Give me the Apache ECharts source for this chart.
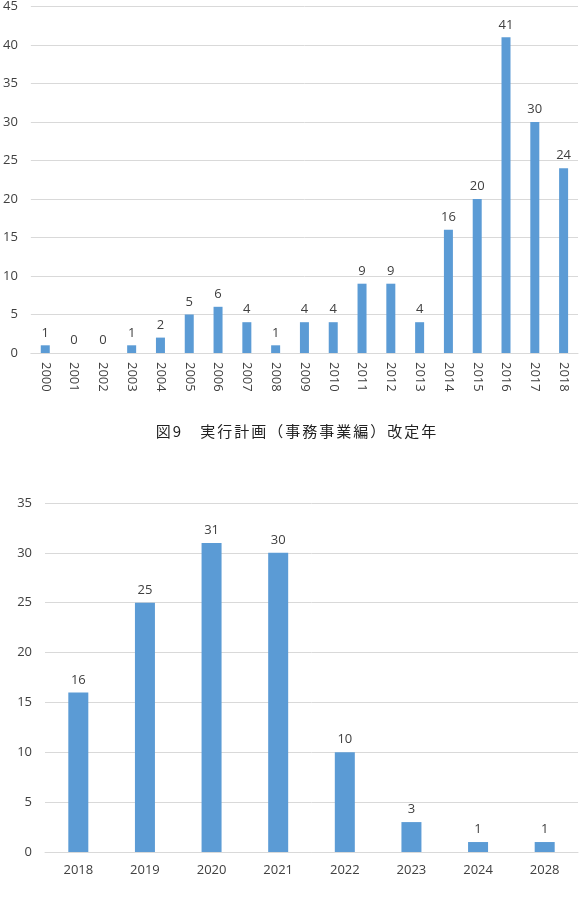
<!DOCTYPE html>
<html>
<head>
<meta charset="utf-8">
<script src="https://cdn.jsdelivr.net/npm/echarts@6/dist/echarts.min.js"></script>
<style>
  html, body { margin: 0; padding: 0; background: #fff; }
  #wrap { position: relative; width: 588px; height: 908px; }
  #chart { width: 588px; height: 908px; }
  #caption {
    position: absolute; left: 0; top: 421px; width: 588px; padding-left: 6px; box-sizing: border-box;
    text-align: center; font-family: "Noto Sans CJK JP"; font-size: 15px; letter-spacing: 2px;
    color: #222; line-height: 20px;
  }
</style>
</head>
<body>
<div id="wrap">
  <div id="chart"></div>
  <div id="caption"></div>
</div>
<script>
// revision years (top chart)
const revYears = ["2000", "2001", "2002", "2003", "2004", "2005", "2006", "2007", "2008", "2009",
  "2010", "2011", "2012", "2013", "2014", "2015", "2016", "2017", "2018"];
const revCounts = [1, 0, 0, 1, 2, 5, 6, 4, 1, 4, 4, 9, 9, 4, 16, 20, 41, 30, 24];

// planned years (bottom chart)
const planYears = ["2018", "2019", "2020", "2021", "2022", "2023", "2024", "2028"];
const planCounts = [16, 25, 31, 30, 10, 3, 1, 1];

const caption = "図9　実行計画（事務事業編）改定年";

const barColor = "#5B9BD5";
const textColor = "#404040";
const font = "Open Sans";

document.getElementById("caption").textContent = caption;

const myChart = echarts.init(document.getElementById("chart"));

function yAxisOf(idx, max) {
  return {
    type: "value",
    gridIndex: idx,
    min: 0,
    max: max,
    interval: 5,
    axisLine: { show: false },
    axisTick: { show: false },
    axisLabel: { color: textColor, fontSize: 13, fontFamily: font, margin: 13 },
    splitLine: { lineStyle: { color: "#d9d9d9", width: 1 } }
  };
}

function seriesOf(idx, data, width) {
  return {
    type: "bar",
    xAxisIndex: idx,
    yAxisIndex: idx,
    data: data,
    barWidth: width,
    itemStyle: { color: barColor },
    label: {
      show: true,
      position: "top",
      distance: 6,
      color: textColor,
      fontSize: 13,
      fontFamily: font
    }
  };
}

myChart.setOption({
  animation: false,
  grid: [
    { left: 30, right: 10, top: 6, height: 347 },
    { left: 45, right: 10, top: 503, height: 349 }
  ],
  xAxis: [
    {
      type: "category",
      gridIndex: 0,
      data: revYears,
      axisLine: { lineStyle: { color: "#d9d9d9" } },
      axisTick: { show: false },
      axisLabel: { color: textColor, fontSize: 13, fontFamily: font, rotate: -90, margin: 9, interval: 0 }
    },
    {
      type: "category",
      gridIndex: 1,
      data: planYears,
      axisLine: { lineStyle: { color: "#d9d9d9" } },
      axisTick: { show: false },
      axisLabel: { color: textColor, fontSize: 13, fontFamily: font, margin: 12, interval: 0 }
    }
  ],
  yAxis: [yAxisOf(0, 45), yAxisOf(1, 35)],
  series: [seriesOf(0, revCounts, 9), seriesOf(1, planCounts, 20)]
});
</script>
</body>
</html>
